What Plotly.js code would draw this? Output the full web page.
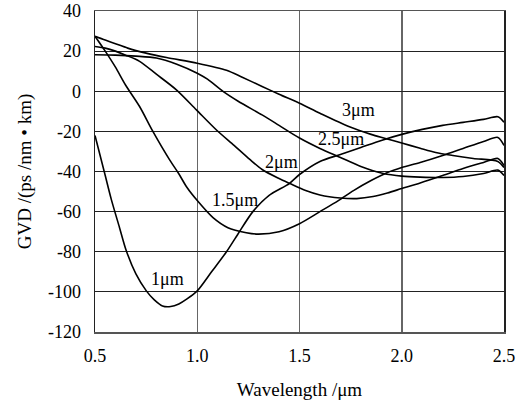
<!DOCTYPE html>
<html>
<head>
<meta charset="utf-8">
<script src="https://cdn.plot.ly/plotly-3.0.1.min.js"></script>
<style>html,body{margin:0;padding:0;background:#fff;}#chart{width:524px;height:401px;}</style>
</head>
<body>
<div id="chart"></div>
<script>
// Wavelength (µm) and GVD (ps/nm·km), one pair per core diameter
const wl_1um  = [0.5, 0.55, 0.58, 0.62, 0.653, 0.7, 0.751, 0.79, 0.83, 0.87, 0.91, 0.95, 1.0, 1.07, 1.143, 1.2, 1.272, 1.35, 1.45, 1.5, 1.6, 1.7, 1.8, 1.9, 2.0, 2.1, 2.2, 2.3, 2.4, 2.47, 2.5];
const gvd_1um = [-22, -42, -54, -68, -79.5, -91, -99.5, -104, -107, -107.3, -106, -103.5, -99.5, -90, -80, -71, -60, -52, -46, -41.5, -35, -31.5, -28, -24.5, -21.5, -19, -17, -15.5, -14, -12.7, -15.5];

const wl_15um  = [0.5, 0.55, 0.6, 0.65, 0.718, 0.783, 0.865, 0.909, 0.95, 1.0, 1.077, 1.15, 1.24, 1.3, 1.4, 1.5, 1.6, 1.69, 1.764, 1.85, 1.93, 2.0, 2.09, 2.2, 2.3, 2.4, 2.47, 2.5];
const gvd_15um = [27.4, 20, 12, 3, -7.6, -20, -34.2, -41, -48, -54.5, -63, -68, -70.5, -71.2, -70, -66, -60, -54.5, -49.5, -44.5, -40.5, -38, -35.5, -32, -28.5, -25, -23, -27];

const wl_2um  = [0.5, 0.55, 0.6, 0.65, 0.718, 0.8, 0.898, 0.996, 1.094, 1.18, 1.257, 1.317, 1.4, 1.453, 1.53, 1.6, 1.7, 1.78, 1.86, 1.93, 2.0, 2.09, 2.2, 2.3, 2.4, 2.47, 2.5];
const gvd_2um = [22.3, 21.5, 20, 18, 14.9, 8.5, 0.7, -9.3, -19.3, -27, -34, -39, -43.5, -46, -49.5, -51.7, -53.2, -53.5, -52.5, -50.7, -48.5, -45.7, -42, -38.5, -35.5, -33.5, -37];

const wl_25um  = [0.5, 0.6, 0.7, 0.8, 0.9, 1.0, 1.05, 1.126, 1.2, 1.317, 1.4, 1.5, 1.6, 1.7, 1.8, 1.91, 2.0, 2.09, 2.2, 2.3, 2.4, 2.47, 2.5];
const gvd_25um = [18.2, 18, 17.5, 16.6, 13.5, 9, 6, -0.1, -5, -11.8, -17, -23.3, -28.5, -33, -37.5, -41, -42.3, -42.8, -43, -42.5, -41, -39.3, -42];

const wl_3um  = [0.5, 0.55, 0.6, 0.66, 0.75, 0.85, 1.0, 1.143, 1.22, 1.317, 1.4, 1.5, 1.6, 1.741, 1.85, 1.92, 2.0, 2.09, 2.166, 2.25, 2.35, 2.47, 2.5];
const gvd_3um = [27.4, 25.5, 23.7, 21.5, 19, 16.8, 14, 10.5, 7, 2.4, -1.5, -6, -11, -17.6, -21.5, -23.5, -25.8, -28.4, -30.5, -32, -33.5, -35, -38];

const curveLabels = ["1μm", "1.5μm", "2μm", "2.5μm", "3μm"];
const labelX = [0.856, 1.184, 1.414, 1.703, 1.787];
const labelY = [-93.5, -54, -35.5, -23.7, -9.2];

const xTickVals = [0.5, 1.0, 1.5, 2.0, 2.5];
const xTickText = ["0.5", "1.0", "1.5", "2.0", "2.5"];
const yTickVals = [40, 20, 0, -20, -40, -60, -80, -100, -120];
const yTickText = ["40", "20", "0", "-20", "-40", "-60", "-80", "-100", "-120"];

const series = [[wl_1um, gvd_1um], [wl_15um, gvd_15um], [wl_2um, gvd_2um], [wl_25um, gvd_25um], [wl_3um, gvd_3um]];
const traces = series.map((s, i) => ({
  x: s[0], y: s[1], type: "scatter", mode: "lines", name: curveLabels[i],
  line: {color: "#000", width: 1.6, shape: "spline", smoothing: 0.8},
  hoverinfo: "skip"
}));

const fam = "Liberation Serif, Times New Roman, serif";
const tickFont = {family: fam, size: 18, color: "#000"};
const titleFont = {family: fam, size: 19, color: "#000"};
const labelFont = {family: fam, size: 18, color: "#000"};
const layout = {
  width: 524, height: 401,
  margin: {l: 95, r: 20, t: 11, b: 69, pad: 0},
  paper_bgcolor: "#fff", plot_bgcolor: "#fff",
  showlegend: false,
  font: tickFont,
  xaxis: {
    range: [0.5, 2.5], tickvals: xTickVals, ticktext: xTickText,
    showgrid: true, gridcolor: "#666", gridwidth: 1.5,
    showline: true, linecolor: "#555", linewidth: 1.5, mirror: true,
    ticks: "outside", ticklen: 7, tickcolor: "rgba(0,0,0,0)", zeroline: false,
    tickfont: tickFont,
    title: {text: "Wavelength /μm", font: titleFont, standoff: 17}
  },
  yaxis: {
    range: [-120, 40], tickvals: yTickVals, ticktext: yTickText,
    showgrid: true, gridcolor: "#222", gridwidth: 1.2,
    showline: true, linecolor: "#222", linewidth: 1.5, mirror: true,
    ticks: "outside", ticklen: 9, tickcolor: "rgba(0,0,0,0)", zeroline: false,
    tickfont: tickFont,
    title: {text: "GVD /(ps /nm • km)", font: titleFont, standoff: 11}
  },
  annotations: curveLabels.map((t, i) => ({
    x: labelX[i], y: labelY[i], xref: "x", yref: "y", text: t,
    showarrow: false, font: labelFont, bgcolor: "rgba(0,0,0,0)"
  }))
};
Plotly.newPlot("chart", traces, layout, {staticPlot: true, displayModeBar: false});
</script>
</body>
</html>
